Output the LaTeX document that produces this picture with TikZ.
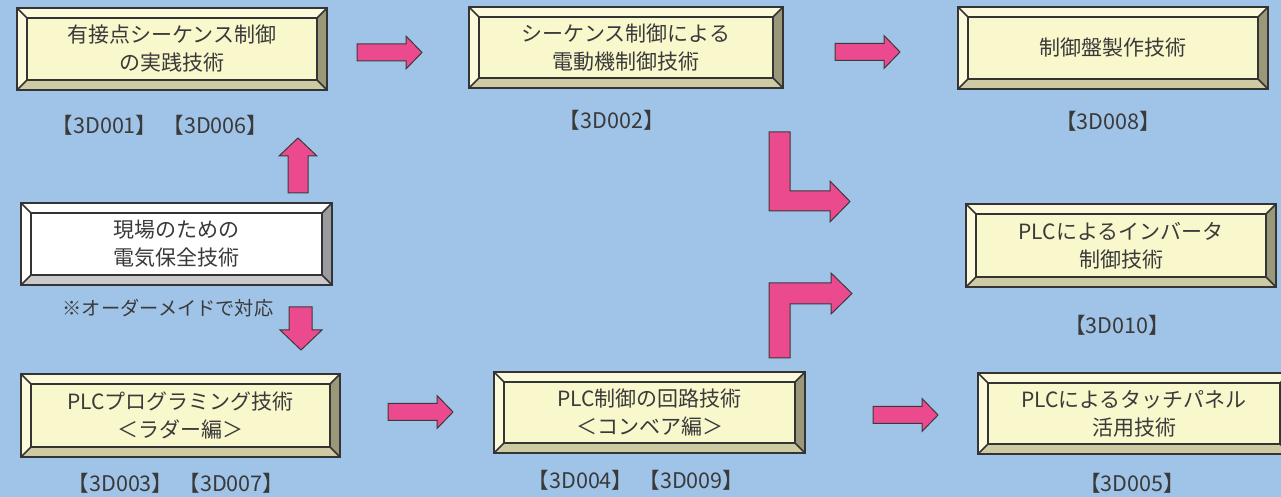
\documentclass[tikz,border=0pt]{standalone}
\usepackage{fontspec}
\setmainfont{Noto Sans CJK JP}
\definecolor{bg}{HTML}{A0C4E8}
\definecolor{ink}{HTML}{3A3A3A}
\definecolor{pink}{HTML}{EC4A8E}
\definecolor{yelface}{HTML}{F9F7CC}
\definecolor{yellite}{HTML}{FCFADA}
\definecolor{yeldark}{HTML}{9A9878}
\definecolor{yelbot}{HTML}{CECAA4}
\definecolor{whtface}{HTML}{FFFFFF}
\definecolor{whtlite}{HTML}{FFFFFF}
\definecolor{whtdark}{HTML}{9C9C9E}
\definecolor{whtbot}{HTML}{CACACC}
\tikzset{
  edge/.style={draw=ink!90!black,line width=1.2pt},
  boxtext/.style={align=center,text=ink,font=\fontsize{10.5}{14}\selectfont},
  code/.style={text=ink,font=\fontsize{10.8}{12}\selectfont},
  blockarrow/.style={fill=pink,draw=ink,line width=0.5pt,line join=miter}
}
% name, left, top, right, bottom, text, colour set
\newcommand{\bevelbox}[7]{%
  \fill[#7lite] (#2,#3) rectangle (#4,#5);
  \fill[#7dark] (#4,#3) -- (#4,#5) -- ({#4-10},{#5-10}) -- ({#4-10},{#3+10}) -- cycle;
  \fill[#7bot] (#2,#5) -- (#4,#5) -- ({#4-10},{#5-10}) -- ({#2+10},{#5-10}) -- cycle;
  \draw[edge,fill=#7face] ({#2+10},{#3+10}) rectangle ({#4-10},{#5-10});
  \draw[edge] (#2,#3) rectangle (#4,#5);
  \draw[edge,line width=0.8pt] (#2,#3) -- ({#2+10},{#3+10}) (#4,#3) -- ({#4-10},{#3+10})
    (#2,#5) -- ({#2+10},{#5-10}) (#4,#5) -- ({#4-10},{#5-10});
  \node[boxtext] (#1) at ({(#2+#4)/2},{(#3+#5)/2}) {#6};
}
% left end, centre line
\newcommand{\rarrow}[2]{%
  \draw[blockarrow,shift={(#1,#2)}] (0,-8.5) -- (49,-8.5) -- (49,-16.5) -- (65,0)
    -- (49,16.5) -- (49,8.5) -- (0,8.5) -- cycle;
}
\begin{document}
\begin{tikzpicture}[x=0.5pt,y=-0.5pt]
  \useasboundingbox (0,0) rectangle (1281,497);
  \clip (0,0) rectangle (1281,497);
  \fill[bg] (0,0) rectangle (1281,497);

  % boxes
  \bevelbox{relay}{17}{8}{327}{90}{有接点シーケンス制御\\の実践技術}{yel}
  \bevelbox{motor}{469}{7}{783}{88}{シーケンス制御による\\電動機制御技術}{yel}
  \bevelbox{panel}{958}{7}{1268}{89}{制御盤製作技術}{yel}
  \bevelbox{maint}{21}{203}{332}{285}{現場のための\\電気保全技術}{wht}
  \bevelbox{inverter}{966}{204}{1276}{287}{PLCによるインバータ\\制御技術}{yel}
  \bevelbox{ladder}{21}{374}{340}{457}{PLCプログラミング技術\\＜ラダー編＞}{yel}
  \bevelbox{conveyor}{494}{372}{805}{453}{PLC制御の回路技術\\＜コンベア編＞}{yel}
  \bevelbox{touch}{978}{373}{1290}{454}{PLCによるタッチパネル\\活用技術}{yel}

  % course codes
  \node[code] (relaycode) at (160,125) {【3D001】 【3D006】};
  \node[code] (motorcode) at (612,120) {【3D002】};
  \node[code] (panelcode) at (1108,121) {【3D008】};
  \node[code] (invertercode) at (1117,325) {【3D010】};
  \node[code] (laddercode) at (176,483) {【3D003】 【3D007】};
  \node[code] (conveyorcode) at (636,480) {【3D004】 【3D009】};
  \node[code] (touchcode) at (1132,483) {【3D005】};
  \node[code,font=\fontsize{9.6}{12}\selectfont] (custom) at (168,308) {※オーダーメイドで対応};

  % arrows
  \rarrow{357}{52.5}
  \rarrow{835}{52}
  \rarrow{388}{412}
  \rarrow{873}{415}
  \draw[blockarrow] (288,193) -- (288,156) -- (279,156) -- (298,138) -- (317,156)
    -- (308,156) -- (308,193) -- cycle;
  \draw[blockarrow] (289,307) -- (312,307) -- (312,330) -- (322,330) -- (301,350)
    -- (280,330) -- (289,330) -- cycle;
  \draw[blockarrow] (769,132) -- (790,132) -- (790,191) -- (830,191) -- (830,181)
    -- (850,201.5) -- (830,222) -- (830,211) -- (769,211) -- cycle;
  \draw[blockarrow] (769,358) -- (769,283) -- (831,283) -- (831,273) -- (852,293.5)
    -- (831,314) -- (831,304) -- (790,304) -- (790,358) -- cycle;
\end{tikzpicture}
\end{document}
